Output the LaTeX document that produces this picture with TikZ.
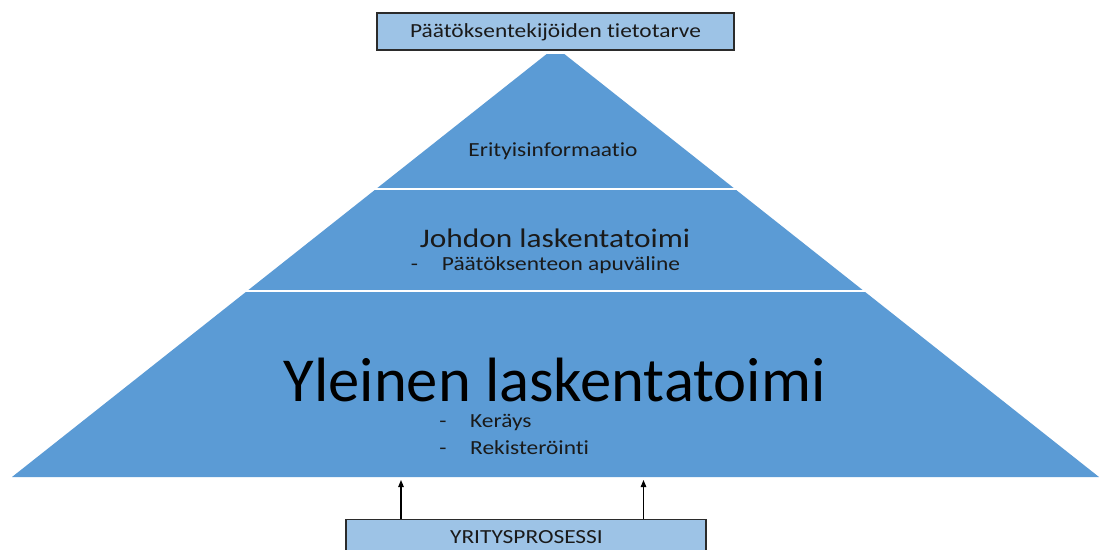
\documentclass[tikz,border=0pt]{standalone}
\usepackage{fontspec}
\setmainfont{Carlito}[RawFeature={-liga}]
\newfontfamily\widefont{Carlito}[FakeStretch=1.17,RawFeature={-liga}]
\usetikzlibrary{arrows.meta}
\definecolor{pyrblue}{HTML}{5B9BD5}
\definecolor{boxblue}{HTML}{9DC3E6}
\definecolor{boxline}{HTML}{2B2B2B}
\definecolor{txt}{HTML}{1A1A1A}
\tikzset{
  labelbox/.style={draw=boxline, line width=1.3pt, fill=boxblue, inner sep=0pt},
  smalltxt/.style={font=\widefont\fontsize{20pt}{24pt}\selectfont, text=txt, inner sep=0pt},
  listtxt/.style={smalltxt, text height=13pt, text depth=4pt},
  midtxt/.style={font=\widefont\fontsize{26.8pt}{32pt}\selectfont, text=txt, inner sep=0pt},
  bigtxt/.style={font=\fontsize{62.6pt}{72pt}\selectfont, text=black, inner sep=0pt, text depth=0pt},
  arr/.style={line width=1.1pt, draw=black, -{Triangle[length=7pt,width=5.5pt]}},
  sep/.style={draw=white, line width=1.6pt}
}
\begin{document}
\begin{tikzpicture}[x=1pt,y=-1pt]
\useasboundingbox (0,0) rectangle (1100,549);
\clip (0,0) rectangle (1100,549);
\fill[white] (0,0) rectangle (1100,549);
% pyramid
\fill[pyrblue] (12,477) -- (1099,477) -- (564.3,54) -- (546.7,54) -- cycle;
\draw[sep] (360,189) -- (750,189);
\draw[sep] (235,291) -- (876,291);
% top box
\node[labelbox, minimum width=357pt, minimum height=37pt, text height=12.9pt, text depth=0pt,
      font=\widefont\fontsize{20pt}{24pt}\selectfont, text=txt] (need) at (555.5,31.5) {Päätöksentekijöiden tietotarve};
% texts in pyramid
\node[smalltxt, anchor=base] (eri) at (553,156) {Erityisinformaatio};
\node[midtxt, anchor=base] (johdon) at (555,247.7) {Johdon laskentatoimi};
\node[listtxt, anchor=base] (d1) at (414.5,270) {-};
\node[listtxt, anchor=base west] (paat) at (441.7,270) {Päätöksenteon apuväline};
\node[bigtxt, anchor=base] (yleinen) at (554.7,401) {Yleinen laskentatoimi};
\node[listtxt, anchor=base] (d2) at (443,427) {-};
\node[listtxt, anchor=base west] (ker) at (470,427) {Keräys};
\node[listtxt, anchor=base] (d3) at (443,454) {-};
\node[listtxt, anchor=base west] (rek) at (470,454) {Rekisteröinti};
% bottom box
\node[labelbox, minimum width=360pt, minimum height=60pt, anchor=north] (proc) at (526,519) {};
\node[smalltxt, anchor=base] (proclabel) at (526.5,543) {YRITYSPROSESSI};
% arrows
\coordinate (a1) at (401,480);
\coordinate (a2) at (643.5,480);
\draw[arr] (proc.north -| a1) -- (a1);
\draw[arr] (proc.north -| a2) -- (a2);
\end{tikzpicture}
\end{document}
